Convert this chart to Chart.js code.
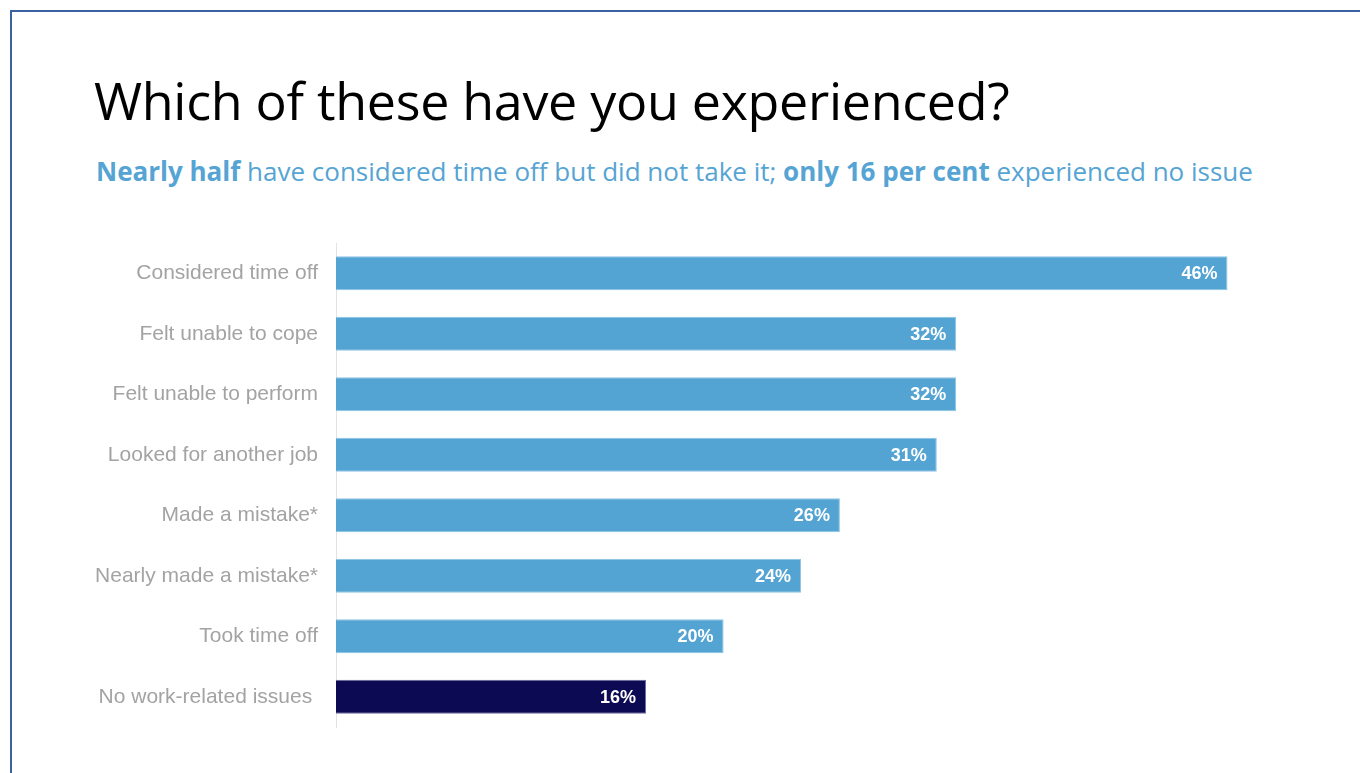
<!DOCTYPE html>
<html>
<head>
<meta charset="utf-8">
<script src="https://cdn.jsdelivr.net/npm/chart.js@4/dist/chart.umd.min.js"></script>
<style>
  html, body { margin:0; padding:0; background:#fff; }
  #frame { position:absolute; left:10px; top:10px; width:1360px; height:780px; border-top:2px solid #3a62a0; border-left:2px solid #3a62a0; box-sizing:border-box; }
  #title { position:absolute; left:94px; top:64px; font-family:"Open Sans", sans-serif; font-size:52px; color:#000; white-space:nowrap; letter-spacing:-0.3px; }
  #subtitle { position:absolute; left:96px; top:153px; font-family:"Open Sans", sans-serif; font-size:26px; color:#55a4d4; white-space:nowrap; }
  #subtitle b { font-weight:700; }
  #wrap { position:absolute; left:0; top:0; width:1360px; height:773px; }
</style>
</head>
<body>
<div id="frame"></div>
<div id="title">Which of these have you experienced?</div>
<div id="subtitle"><b>Nearly half</b> have considered time off but did not take it; <b>only 16 per cent</b> experienced no issue</div>
<div id="wrap"><canvas id="chart" width="1360" height="773"></canvas></div>
<script>
// survey answers, top to bottom
const categories = ['Considered time off','Felt unable to cope','Felt unable to perform','Looked for another job',
  'Made a mistake*','Nearly made a mistake*','Took time off','No work-related issues '];
const values = [46, 32, 32, 31, 26, 24, 20, 16];
const barColors = ['#53a3d3','#53a3d3','#53a3d3','#53a3d3','#53a3d3','#53a3d3','#53a3d3','#0b0a52'];
const edgeColors = ['#8cc3e6','#8cc3e6','#8cc3e6','#8cc3e6','#8cc3e6','#8cc3e6','#8cc3e6','#6b6aa0'];

// white % labels inside the bar ends
const valueLabels = {
  id:'valueLabels',
  afterDatasetsDraw(chart){
    const ctx = chart.ctx;
    const meta = chart.getDatasetMeta(0);
    ctx.save();
    ctx.font = 'bold 18px "Liberation Sans", Arial, sans-serif';
    ctx.fillStyle = '#fff';
    ctx.textAlign = 'right';
    ctx.textBaseline = 'middle';
    meta.data.forEach((bar,i)=>{
      ctx.fillText(values[i] + '%', bar.x - 10, bar.y + 1);
    });
    ctx.restore();
  }
};

new Chart(document.getElementById('chart'), {
  type:'bar',
  data:{
    labels: categories,
    datasets:[{
      data: values,
      backgroundColor: barColors,
      borderColor: edgeColors,
      borderWidth: 1,
      borderSkipped: 'start',
      barPercentage: 0.56,
      categoryPercentage: 1
    }]
  },
  options:{
    indexAxis:'y',
    responsive:false,
    animation:false,
    layout:{ padding:{ top:243, bottom:46, right:55, left:0 } },
    plugins:{ legend:{display:false}, tooltip:{enabled:false} },
    scales:{
      x:{ display:false, min:0, max:50 },
      y:{
        afterFit(s){ s.width = 336; },
        grid:{ display:false },
        border:{ display:true, color:'#e2e2e2', width:1 },
        ticks:{ color:'#a3a3a3', padding:10, font:{ family:'"Liberation Sans", Arial, sans-serif', size:21 } }
      }
    }
  },
  plugins:[valueLabels]
});
</script>
</body>
</html>
